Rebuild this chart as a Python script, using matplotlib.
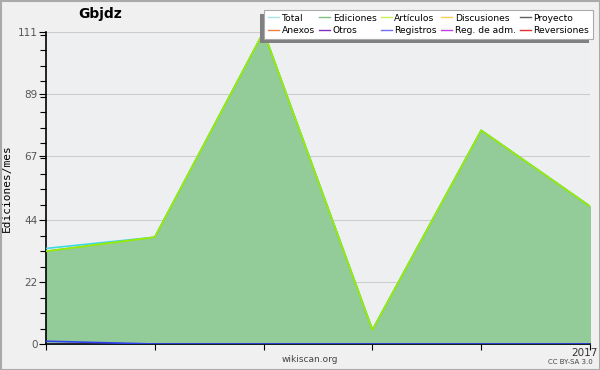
import matplotlib
matplotlib.use("Agg")
import matplotlib.pyplot as plt
import matplotlib.transforms as mtransforms
from matplotlib.patches import Rectangle
import numpy as np

# Data
months = [0, 1, 2, 3, 4, 5]
tick_labels = ["", "", "", "", "", "2017"]
total = [34, 38, 111, 5, 76, 49]
ediciones = [33, 38, 111, 5, 76, 49]
articulos = [33, 38, 111, 5, 76, 49]
registros = [1, 0, 0, 0, 0, 0]
otros = [0, 0, 0, 0, 0, 0]

series_names = ["Total", "Ediciones", "Artículos", "Discusiones", "Proyecto",
                "Anexos", "Otros", "Registros", "Reg. de adm.", "Reversiones"]
series_colors = ["#a8e4e4", "#80c080", "#c8f050", "#ffd050", "#606060",
                 "#f08040", "#8030c0", "#7070f0", "#c040e0", "#e03030"]

fig = plt.figure(figsize=(6, 3.7), dpi=100, facecolor="#f0f0f0")
ax = fig.add_axes([46/600, 1-344/370, 544/600, 312/370])
ax.set_facecolor("#eeeff1")

ax.fill_between(months, 0, ediciones, color="#93cb99", zorder=2)
ax.plot(months, total, color="#40d8e0", lw=1.2, zorder=3)
ax.plot(months, ediciones, color="#80c080", lw=1.2, zorder=3)
ax.plot(months, articulos, color="#99ee00", lw=1.2, zorder=4)
ax.plot(months, otros, color="#8030c0", lw=1, zorder=3)
ax.plot(months, registros, color="#3040f0", lw=1.2, zorder=4)

ax.set_xlim(0, 5)
ax.set_ylim(0, 111)
yt = [0, 22, 44, 67, 89, 111]
ax.set_yticks(yt)
ax.set_yticklabels([str(v) for v in yt], color="#555555", fontsize=7.5)
ax.set_yticks(np.arange(0, 111, 5.5), minor=True)
ax.tick_params(axis="y", which="minor", length=4, width=0.8)
ax.tick_params(axis="y", which="major", length=5, width=0.8, pad=1)
ax.set_xticks(months)
ax.set_xticklabels(tick_labels, color="#333333", fontsize=7.5)
ax.tick_params(axis="x", length=4, width=0.8, pad=-1)
last = ax.get_xticklabels()[-1]
last.set_horizontalalignment("right")
last.set_transform(last.get_transform() + mtransforms.ScaledTranslation(8/100, 0, fig.dpi_scale_trans))
ax.grid(axis="y", which="major", color="#cccccc", lw=0.8, zorder=1)
ax.set_axisbelow(True)
for s in ["top", "right"]:
    ax.spines[s].set_visible(False)
ax.spines["left"].set_linewidth(1.2)
ax.spines["bottom"].set_linewidth(1.2)

ax.set_ylabel("Ediciones/mes", family="DejaVu Sans Mono", fontsize=8, labelpad=4)

fig.text(100/600, 1-14/370, "Gbjdz", fontsize=10, fontweight="bold", ha="center", va="center")
fig.text(310/600, 1-360/370, "wikiscan.org", fontsize=6.5, color="#444444", ha="center", va="center")
fig.text(570/600, 1-362/370, "CC BY-SA 3.0", fontsize=5, color="#444444", ha="center", va="center")

handles = [plt.Line2D([], [], color=c, lw=1) for c in series_colors]
order = [0, 5, 1, 6, 2, 7, 3, 8, 4, 9]
leg = fig.legend([handles[i] for i in order], [series_names[i] for i in order],
                 ncol=5, loc="upper right", bbox_to_anchor=(593/600, 1-10/370),
                 fontsize=6.6, frameon=True, fancybox=False, framealpha=1,
                 edgecolor="#aaaaaa", borderpad=0.4, labelspacing=0.35,
                 handlelength=1.2, handletextpad=0.3, columnspacing=0.45,
                 borderaxespad=0)
leg.get_frame().set_linewidth(0.8)
leg.set_zorder(10)
fig.canvas.draw()
bb = leg.get_window_extent().transformed(fig.transFigure.inverted())
fig.patches.append(Rectangle((bb.x0 - 4/600, bb.y0 - 4/370), bb.width, bb.height,
                             transform=fig.transFigure, facecolor="#808080",
                             edgecolor="none", zorder=9))
fig.patches.append(Rectangle((0.5/600, 0.5/370), 599/600, 369/370, transform=fig.transFigure,
                             facecolor="none", edgecolor="#aaaaaa", lw=1.5, zorder=20))
fig.savefig("out.png", dpi=100, facecolor=fig.get_facecolor())
